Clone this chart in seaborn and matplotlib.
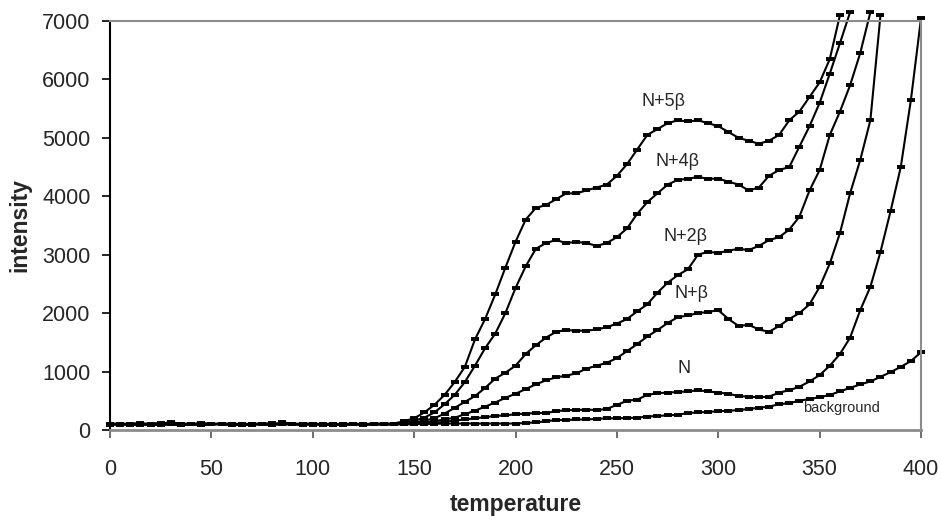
import pandas as pd
import seaborn as sns
import matplotlib.pyplot as plt

# temperature grid, every 5 degrees
temperature = list(range(0, 405, 5))

# intensity, one list per curve (curves stop where they leave the top)
n_5beta = [100, 90, 105, 120, 95, 100, 140, 100, 95, 125, 100, 110, 95, 100,
           100, 105, 90, 130, 110, 100, 95, 100, 105, 100, 95, 100, 105, 110,
           110, 150, 200, 300, 430, 600, 820, 1080, 1550, 1900,
           2320, 2780, 3220, 3600, 3800, 3850, 3950, 4050, 4050, 4100,
           4150, 4200, 4350, 4550, 4800, 5050, 5150, 5250, 5300, 5280,
           5300, 5250, 5200, 5100, 5000, 4950, 4900, 4950, 5050, 5300,
           5450, 5700, 5950, 6350, 7100]
n_4beta = [85, 105, 100, 80, 110, 120, 100, 85, 100, 110, 95, 100, 105, 80,
           100, 100, 85, 110, 100, 80, 105, 100, 95, 100, 110, 100, 95, 100,
           105, 130, 160, 210, 300, 440, 600, 820, 1100, 1400,
           1650, 2000, 2430, 2800, 3100, 3200, 3250, 3200, 3220, 3200,
           3150, 3200, 3300, 3450, 3700, 3900, 4050, 4200, 4280, 4300,
           4330, 4300, 4300, 4250, 4200, 4100, 4150, 4350, 4450, 4500,
           4850, 5200, 5600, 6100, 6620, 7150]
n_2beta = [110, 100, 95, 100, 105, 80, 100, 110, 100, 85, 105, 100, 80, 100,
           110, 100, 95, 100, 105, 100, 110, 85, 100, 80, 100, 105, 100, 95,
           100, 110, 130, 160, 200, 280, 380, 480, 580, 720,
           880, 980, 1100, 1300, 1450, 1580, 1680, 1710, 1700, 1700,
           1720, 1760, 1820, 1900, 2030, 2150, 2350, 2520, 2650, 2750,
           3000, 3050, 3030, 3070, 3100, 3080, 3150, 3250, 3300, 3430,
           3650, 4100, 4450, 5050, 5450, 5900, 6450, 7150]
n_beta = [90, 100, 110, 100, 85, 105, 100, 80, 100, 105, 95, 100, 110, 100,
          85, 100, 105, 100, 95, 110, 100, 100, 80, 105, 100, 95, 110, 100,
          100, 100, 110, 130, 150, 180, 210, 270, 330, 400,
          470, 550, 620, 700, 780, 850, 900, 930, 970, 1050,
          1100, 1150, 1230, 1350, 1470, 1600, 1710, 1830, 1930, 1960,
          2000, 2020, 2050, 1900, 1780, 1800, 1720, 1680, 1780, 1900,
          2000, 2150, 2450, 2850, 3370, 4050, 4620, 5300, 7100]
n_only = [105, 100, 80, 100, 110, 95, 100, 100, 105, 80, 100, 110, 100, 85,
          100, 105, 120, 100, 95, 100, 110, 100, 85, 100, 105, 80, 100, 95,
          100, 100, 100, 110, 120, 140, 160, 180, 200, 220,
          240, 250, 270, 280, 290, 290, 320, 340, 340, 350,
          340, 360, 430, 500, 520, 600, 630, 640, 650, 660,
          680, 660, 640, 620, 580, 570, 560, 570, 640, 680,
          740, 830, 940, 1100, 1300, 1580, 2050, 2450, 3050, 3750,
          4500, 5650, 7050]
background = [100, 110, 95, 100, 90, 105, 100, 110, 100, 95, 100, 105, 100, 90,
              110, 100, 95, 100, 105, 100, 90, 100, 110, 95, 100, 100, 105, 100,
              100, 100, 100, 105, 105, 110, 110, 110, 110, 110, 110, 110,
              110, 120, 130, 150, 170, 170, 180, 180, 190, 200,
              200, 205, 210, 230, 240, 250, 260, 290, 300, 310,
              320, 330, 340, 360, 380, 400, 440, 460, 500, 530,
              560, 600, 660, 720, 780, 830, 910, 990, 1080, 1180, 1330]

curves = {'N+5β': n_5beta, 'N+4β': n_4beta, 'N+2β': n_2beta,
          'N+β': n_beta, 'N': n_only, 'background': background}

rows = []
for name, vals in curves.items():
    for t, v in zip(temperature, vals):
        rows.append({'curve': name, 'temperature': t, 'intensity': v})
df = pd.DataFrame(rows)

sns.set_style('white')
plt.rcParams['font.family'] = ['Liberation Sans', 'DejaVu Sans']

fig = plt.figure(figsize=(9.41, 5.21), dpi=100)
ax = fig.add_axes([0.1169, 0.1747, 0.8619, 0.785])

sns.lineplot(data=df, x='temperature', y='intensity', units='curve',
             estimator=None, color='black', linewidth=1.5, linestyle='-',
             marker='_', markersize=6, markeredgewidth=2.8,
             markeredgecolor='black', clip_on=False, ax=ax)

# curve labels
ax.text(273, 5630, 'N+5β', ha='center', va='center', fontsize=13)
ax.text(280, 4600, 'N+4β', ha='center', va='center', fontsize=13)
ax.text(284, 3320, 'N+2β', ha='center', va='center', fontsize=13)
ax.text(287, 2330, 'N+β', ha='center', va='center', fontsize=13)
ax.text(283, 1060, 'N', ha='center', va='center', fontsize=13)
ax.text(361, 370, 'background', ha='center', va='center', fontsize=10.5)

ax.set_xlim(0, 400)
ax.set_ylim(0, 7000)
ax.set_xticks(range(0, 401, 50))
ax.set_yticks(range(0, 7001, 1000))
ax.tick_params(axis='both', direction='out', length=6, width=1.2,
               labelsize=15.5, left=True, bottom=True)
ax.tick_params(axis='x', pad=15, color='#555555')
ax.tick_params(axis='y', pad=8, color='black')

ax.set_xlabel('temperature', fontsize=16.5, fontweight='bold', labelpad=9)
ax.set_ylabel('intensity', fontsize=16.5, fontweight='bold', labelpad=8)

for side in ['top', 'right', 'bottom']:
    ax.spines[side].set_color('#8c8c8c')
    ax.spines[side].set_linewidth(1.5)
ax.spines['bottom'].set_linewidth(2)
ax.spines['left'].set_color('black')
ax.spines['left'].set_linewidth(1.5)

fig.savefig('out.png', dpi=100)
